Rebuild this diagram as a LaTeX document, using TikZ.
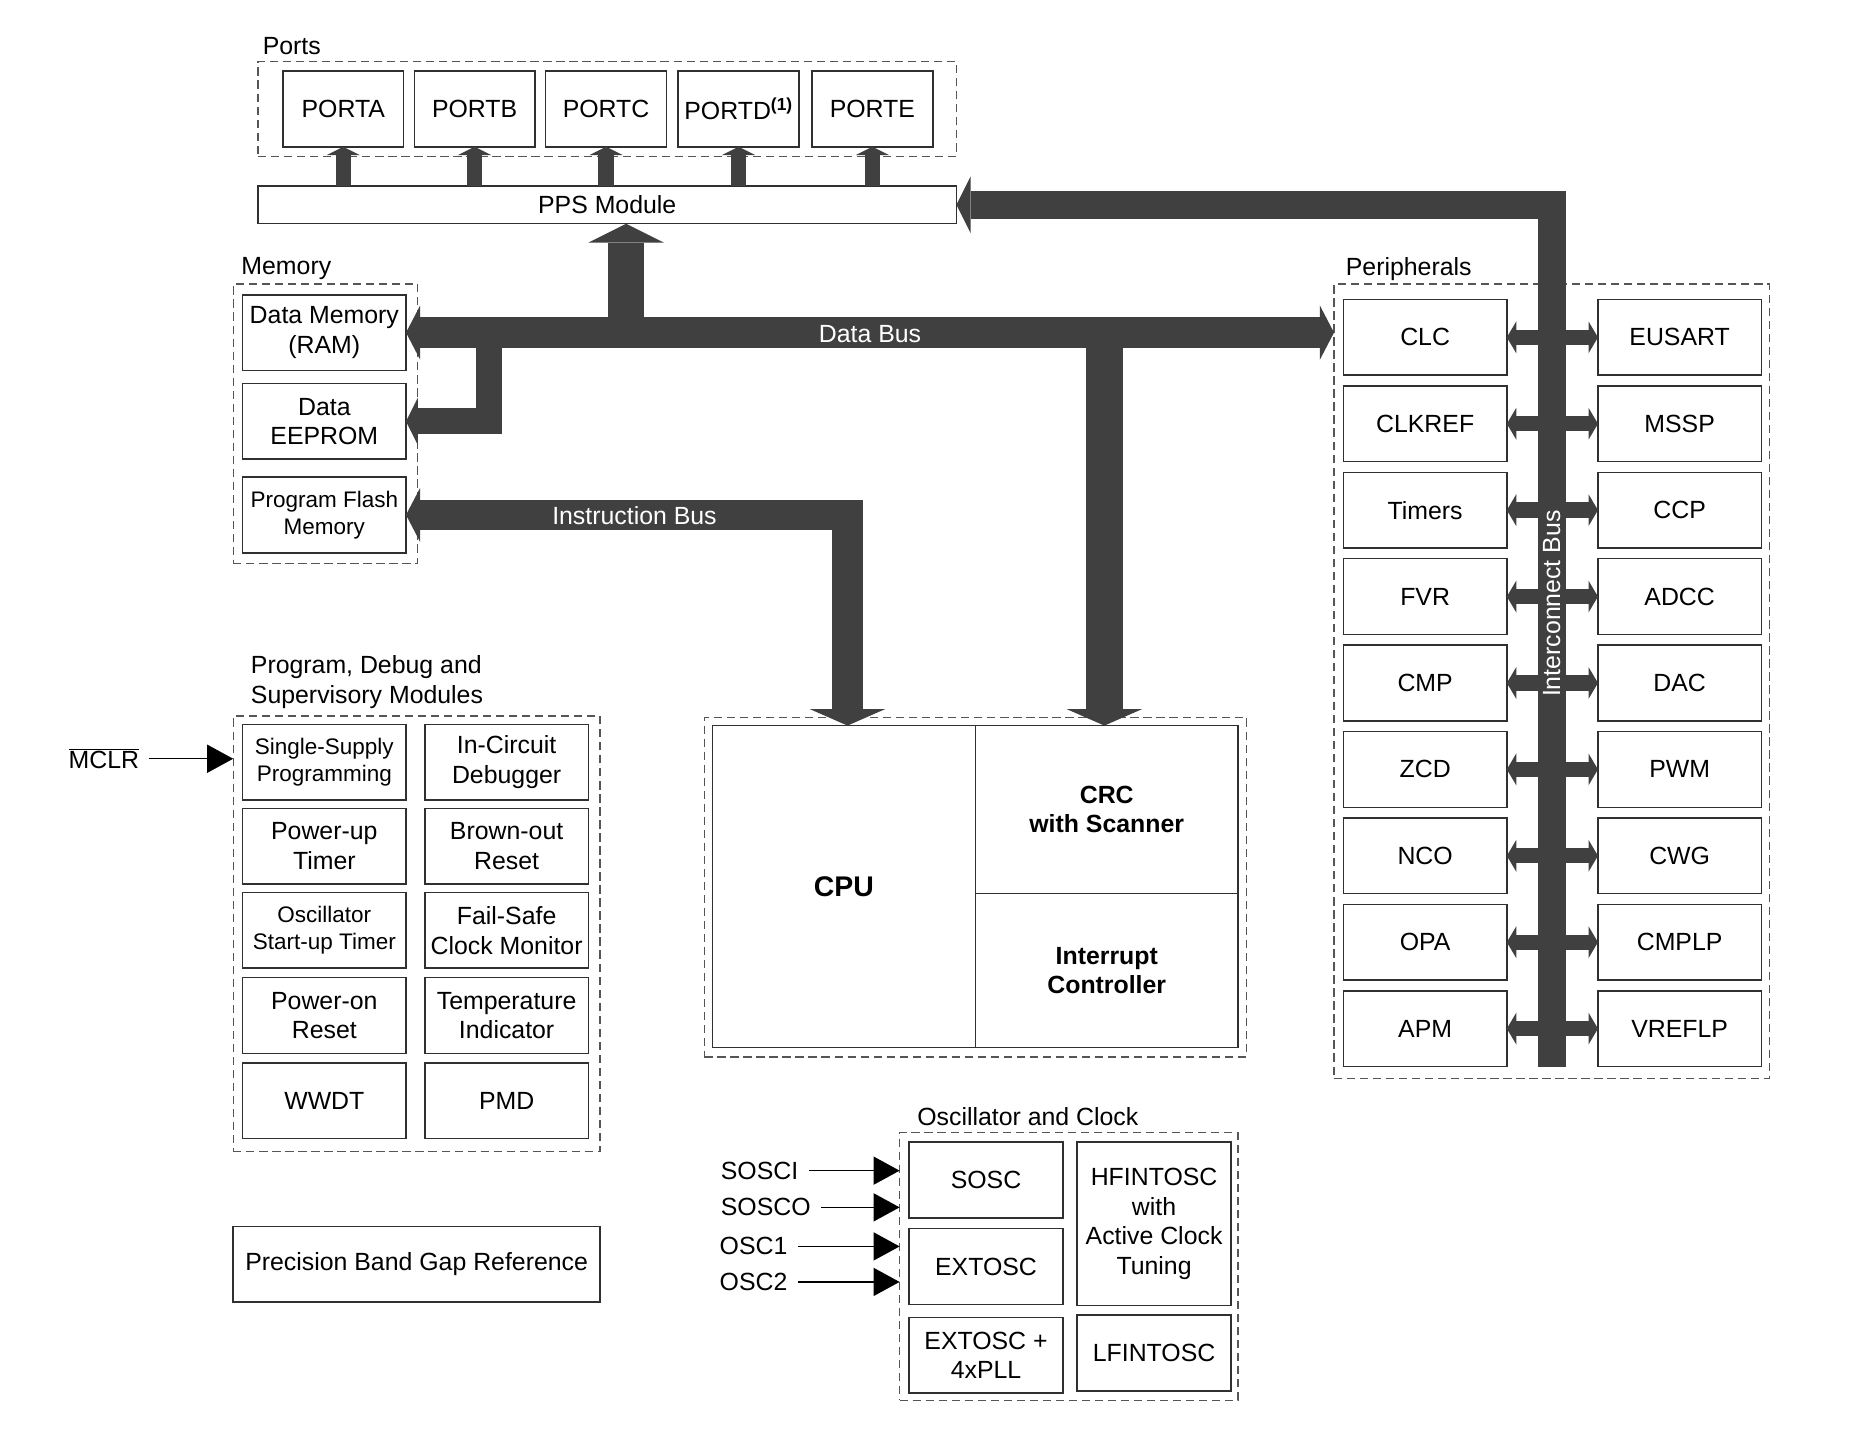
\documentclass[tikz,border=0pt]{standalone}
\usepackage{fontspec}
\setmainfont{Liberation Sans}
\usetikzlibrary{arrows.meta}
\definecolor{busc}{HTML}{404040}
\definecolor{boxc}{HTML}{303030}
\definecolor{grpc}{HTML}{555555}
\tikzset{
  every node/.style={inner sep=0pt, outer sep=0pt},
  box/.style={draw=boxc, line width=1.3pt, fill=white, align=center, minimum width=138pt, minimum height=64pt, font=\fontsize{21}{25}\selectfont},
  sbox/.style={box, font=\fontsize{19}{23}\selectfont},
  bbox/.style={box, font=\bfseries\fontsize{21}{25}\selectfont},
  grp/.style={draw=grpc, line width=1.1pt, dash pattern=on 7pt off 4pt},
  lbl/.style={anchor=west, align=left, font=\fontsize{21}{25}\selectfont},
  buslbl/.style={text=white, font=\fontsize{21}{25}\selectfont},
  dbus/.style={draw=busc, line width=26pt, arrows={Triangle[length=12pt 0 0, width=46pt 0 0, line width=0pt 0 0]-Triangle[length=12pt 0 0, width=46pt 0 0, line width=0pt 0 0]}},
  ppsbus/.style={draw=busc, line width=30pt, arrows={-Triangle[length=16pt 0 0, width=64pt 0 0, line width=0pt 0 0]}},
  crbus/.style={draw=busc, line width=31pt, arrows={-Triangle[length=14pt 0 0, width=64pt 0 0, line width=0pt 0 0]}},
  eebus/.style={draw=busc, line width=22pt, arrows={-Triangle[length=10pt 0 0, width=40pt 0 0, line width=0pt 0 0]}},
  ibus/.style={draw=busc, line width=26pt, arrows={Triangle[length=12pt 0 0, width=46pt 0 0, line width=0pt 0 0]-Triangle[length=14pt 0 0, width=64pt 0 0, line width=0pt 0 0]}},
  icbus/.style={draw=busc, line width=24pt, arrows={-Triangle[length=12pt 0 0, width=48pt 0 0, line width=0pt 0 0]}},
  portbus/.style={draw=busc, line width=13pt, arrows={-Triangle[length=7pt 0 0, width=28pt 0 0, line width=0pt 0 0]}},
  pbus/.style={draw=busc, line width=13pt, arrows={Triangle[length=8pt 0 0, width=27pt 0 0, line width=0pt 0 0]-Triangle[length=8pt 0 0, width=27pt 0 0, line width=0pt 0 0]}},
  pinarrow/.style={draw=black, line width=1.2pt, arrows={-Triangle[length=22pt 0 0, width=24pt 0 0, line width=0pt 0 0]}},
}
\begin{document}
\begin{tikzpicture}[x=1pt,y=-1pt]
\path[use as bounding box, fill=white] (0,0) rectangle (1568,1217);

% ---------- group frames ----------
\node[grp, minimum width=590pt, minimum height=80pt] (portsg) at (513,92) {};
\node[lbl] (portsl) at (222,39) {Ports};
\node[grp, minimum width=156pt, minimum height=236pt] (memg) at (275,358) {};
\node[lbl] (meml) at (204,227) {Memory};
\node[grp, minimum width=310pt, minimum height=368pt] (pdsm) at (352,789) {};
\node[lbl] (pdsml) at (212,576) {Program, Debug and\\Supervisory Modules};
\node[grp, minimum width=458pt, minimum height=287pt] (cpug) at (824,749.5) {};
\node[grp, minimum width=368pt, minimum height=671pt] (periph) at (1311,575.5) {};
\node[lbl] (periphl) at (1137,227) {Peripherals};
\node[grp, minimum width=286pt, minimum height=226pt] (oscg) at (903,1070) {};
\node[lbl] (oscl) at (775,943) {Oscillator and Clock};

% ---------- ports ----------
\node[box, minimum width=102pt] (porta) at (290,92) {PORTA};
\node[box, minimum width=102pt] (portb) at (401,92) {PORTB};
\node[box, minimum width=102pt] (portc) at (512,92) {PORTC};
\node[box, minimum width=102pt] (portd) at (624,92) {PORTD\textsuperscript{\bfseries(1)}};
\node[box, minimum width=102pt] (porte) at (737,92) {PORTE};
\node[box, minimum width=590pt, minimum height=32pt] (pps) at (513,173) {PPS Module};

% ---------- memory ----------
\node[box] (ram) at (274,281) {Data Memory\\(RAM)};
\node[box] (eeprom) at (274,356) {Data\\EEPROM};
\node[sbox] (flash) at (274,435) {Program Flash\\Memory};

% ---------- program/debug ----------
\node[sbox] (ssp) at (274,644) {Single-Supply\\Programming};
\node[box] (icd) at (428,644) {In-Circuit\\Debugger};
\node[box] (pwrt) at (274,715) {Power-up\\Timer};
\node[box] (bor) at (428,715) {Brown-out\\Reset};
\node[sbox] (ost) at (274,786) {Oscillator\\Start-up Timer};
\node[box] (fscm) at (428,786) {Fail-Safe\\Clock Monitor};
\node[box] (por) at (274,858) {Power-on\\Reset};
\node[box] (temp) at (428,858) {Temperature\\Indicator};
\node[box] (wwdt) at (274,930) {WWDT};
\node[box] (pmd) at (428,930) {PMD};
\node[box, minimum width=310pt] (pbgr) at (352,1068) {Precision Band Gap Reference};

\node[lbl] (mclr) at (58,641) {$\overline{\mbox{MCLR}}$};
\draw[pinarrow] ([xshift=8pt]mclr.east) -- (mclr -| pdsm.west);

% ---------- CPU ----------
\node[box, minimum width=222pt, minimum height=272pt, font=\bfseries\fontsize{24}{28}\selectfont] (cpu) at (713,749) {CPU};
\node[bbox, minimum width=222pt, minimum height=142pt] (crc) at (935,684) {CRC\\with Scanner};
\node[bbox, minimum width=222pt, minimum height=130pt] (irq) at (935,820) {Interrupt\\Controller};

% ---------- peripherals ----------
\foreach \nm/\txt [count=\i from 0] in {clc/CLC, clkref/CLKREF, timers/Timers, fvr/FVR, cmp/CMP, zcd/ZCD, nco/NCO, opa/OPA, apm/APM}
  \node[box] (\nm) at (1204,{285+73*\i}) {\txt};
\foreach \nm/\txt [count=\i from 0] in {eusart/EUSART, mssp/MSSP, ccp/CCP, adcc/ADCC, dac/DAC, pwm/PWM, cwg/CWG, cmplp/CMPLP, vreflp/VREFLP}
  \node[box] (\nm) at (1419,{285+73*\i}) {\txt};

% ---------- oscillator ----------
\node[box, minimum width=130pt] (sosc) at (833,997) {SOSC};
\node[box, minimum width=130pt] (extosc) at (833,1070) {EXTOSC};
\node[box, minimum width=130pt] (pll) at (833,1145) {EXTOSC +\\4xPLL};
\node[box, minimum width=130pt, minimum height=138pt] (hfint) at (975,1034) {HFINTOSC\\with\\Active Clock\\Tuning};
\node[box, minimum width=130pt] (lfint) at (975,1143) {LFINTOSC};

\node[lbl] (sosci) at (609,989) {SOSCI};
\node[lbl] (sosco) at (609,1020) {SOSCO};
\node[lbl] (osc1) at (608,1053) {OSC1};
\node[lbl] (osc2) at (608,1083) {OSC2};
\draw[pinarrow] ([xshift=9pt]sosci.east) -- (sosci -| oscg.west);
\draw[pinarrow] ([xshift=9pt]sosco.east) -- (sosco -| oscg.west);
\draw[pinarrow] ([xshift=9pt]osc1.east) -- (osc1 -| oscg.west);
\draw[pinarrow] ([xshift=9pt]osc2.east) -- (osc2 -| oscg.west);

% ---------- buses ----------
\foreach \p in {porta,portb,portc,portd,porte}
  \draw[portbus] (\p.south |- pps.north) -- (\p.south);

\coordinate (icb) at (1311,901);
\draw[icbus] (icb) -- (icb |- pps.east) -- (pps.east);
\foreach \a/\b in {clc/eusart, clkref/mssp, timers/ccp, fvr/adcc, cmp/dac, zcd/pwm, nco/cwg, opa/cmplp, apm/vreflp}
  \draw[pbus] (\a.east) -- (\b.west);
\node[buslbl, rotate=90] (icl) at (1311,510) {Interconnect Bus};

\draw[dbus] (ram.east) -- (ram.east -| periph.west);
\node[buslbl] (dbl) at (735,282) {Data Bus};
\coordinate (dbj) at (529,281);
\draw[ppsbus] (dbj) -- (dbj |- pps.south);
\coordinate (eej) at (413,281);
\draw[eebus] (eej) -- (eej |- eeprom.east) -- (eeprom.east);
\coordinate (crj) at (933,281);
\draw[crbus] (crj) -- (crj |- crc.north);

\coordinate (ibc) at (716,435);
\draw[ibus] (flash.east) -- (ibc) -- (ibc |- cpu.north);
\node[buslbl] (ibl) at (536,436) {Instruction Bus};
\end{tikzpicture}
\end{document}
